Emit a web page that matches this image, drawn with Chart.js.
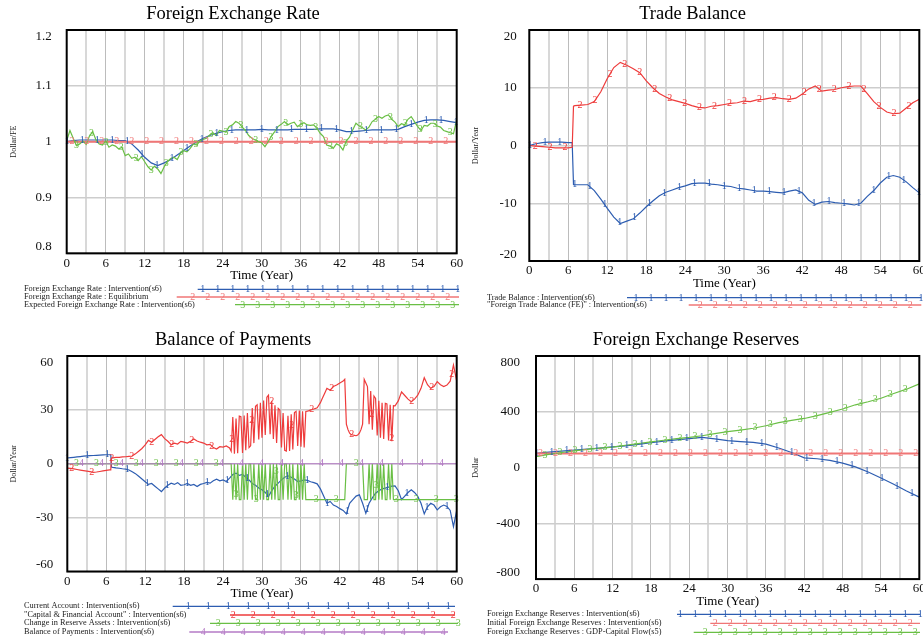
<!DOCTYPE html>
<html><head><meta charset="utf-8">
<script src="https://cdn.jsdelivr.net/npm/chart.js@4.4.1/dist/chart.umd.min.js"></script>
<style>
html,body{margin:0;padding:0;background:#fff;overflow:hidden;width:923px;height:640px;}
canvas{position:absolute;}
</style></head><body>
<canvas id="c1" width="480" height="320" style="left:0;top:0"></canvas>
<canvas id="c2" width="480" height="320" style="left:462px;top:0"></canvas>
<canvas id="c3" width="480" height="320" style="left:0;top:320px"></canvas>
<canvas id="c4" width="480" height="320" style="left:462px;top:320px"></canvas>
<script>
// ---------- shared axis values ----------
const timeTicks = [0,3,6,9,12,15,18,21,24,27,30,33,36,39,42,45,48,51,54,57,60];
const timeLabelStep = 6;

// ---------- Panel 1: Foreign Exchange Rate ----------
const fxTitle = 'Foreign Exchange Rate';
const fxUnit = 'Dollar/FE';
const fxTicks = [0.8, 0.9, 1, 1.1, 1.2];
const fxLabels = ['Foreign Exchange Rate : Intervention(s6)','Foreign Exchange Rate : Equilibrium','Expected Foreign Exchange Rate : Intervention(s6)'];
const fxTimeYear = [0,1,2,3,4,5,6,7,8,9,10,11,12,13,14,15,16,17,18,19,20,21,22,23,24,25,26,27,28,29,30,31,32,33,34,35,36,37,38,39,40,41,42,43,44,45,46,47,48,49,50,51,52,53,54,55,56,57,58,59,60];
const fxIntervention = [1.000,1.002,1.003,1.003,1.003,1.003,1.003,1.003,1.002,1.002,
 0.996,0.985,0.972,0.962,0.957,0.962,0.968,0.976,0.984,0.992,
 1.000,1.006,1.011,1.015,1.018,1.020,1.021,1.021,1.021,1.021,
 1.022,1.021,1.021,1.021,1.021,1.022,1.022,1.022,1.022,1.023,
 1.023,1.023,1.021,1.018,1.018,1.019,1.020,1.021,1.021,1.021,
 1.021,1.022,1.027,1.031,1.035,1.038,1.039,1.039,1.038,1.036,1.034];
const fxEqTime = [0, 60];
const fxEquilibrium = [1, 1];
const fxTimeHalf = [0,0.5,1,1.5,2,2.5,3,3.5,4,4.5,5,5.5,6,6.5,7,7.5,8,8.5,9,9.5,10,10.5,11,11.5,12,12.5,13,13.5,14,14.5,15,15.5,16,16.5,17,17.5,18,18.5,19,19.5,20,20.5,21,21.5,22,22.5,23,23.5,24,24.5,25,25.5,26,26.5,27,27.5,28,28.5,29,29.5,30,30.5,31,31.5,32,32.5,33,33.5,34,34.5,35,35.5,36,36.5,37,37.5,38,38.5,39,39.5,40,40.5,41,41.5,42,42.5,43,43.5,44,44.5,45,45.5,46,46.5,47,47.5,48,48.5,49,49.5,50,50.5,51,51.5,52,52.5,53,53.5,54,54.5,55,55.5,56,56.5,57,57.5,58,58.5,59,59.5,60];
const fxExpected = [1.002,1.020,1.006,0.993,0.996,1.001,0.995,1.010,1.018,1.003,
 0.996,0.994,1.001,0.990,0.994,0.992,0.987,0.990,0.975,0.978,
 0.970,0.972,0.966,0.973,0.964,0.955,0.949,0.956,0.951,0.943,
 0.955,0.964,0.970,0.972,0.968,0.979,0.984,0.982,0.988,0.996,
 0.994,1.001,1.004,1.006,1.012,1.016,1.011,1.020,1.019,1.017,
 1.027,1.030,1.036,1.033,1.026,1.020,1.011,1.006,1.003,1.000,
 0.998,0.991,1.000,1.010,1.018,1.027,1.031,1.036,1.030,1.033,
 1.035,1.027,1.031,1.034,1.030,1.029,1.030,1.024,1.015,1.009,
 0.994,0.992,0.988,0.996,0.993,0.985,1.001,1.008,1.021,1.033,
 1.028,1.025,1.021,1.026,1.036,1.040,1.045,1.042,1.046,1.048,
 1.040,1.035,1.027,1.032,1.030,1.040,1.045,1.036,1.027,1.020,
 1.029,1.028,1.033,1.033,1.028,1.026,1.020,1.018,1.016,1.014,1.039];

// ---------- Panel 2: Trade Balance ----------
const tbTitle = 'Trade Balance';
const tbUnit = 'Dollar/Year';
const tbTicks = [-20, -10, 0, 10, 20];
const tbLabels = ['Trade Balance : Intervention(s6)','"Foreign Trade Balance (FE)" : Intervention(s6)'];
const tbTime = [0,1,2,3,4,5,6,6.6,6.8,7,8,9,10,11,12,13,14,15,16,17,18,19,20,21,22,23,24,25,26,27,28,29,30,31,32,33,34,35,36,37,38,39,40,41,42,43,44,45,46,47,48,49,50,51,52,53,54,55,56,57,58,59,60];
const tbIntervention = [0,0.3,0.5,0.6,0.6,0.6,0.5,0.5,-6.8,-6.8,
 -6.8,-6.8,-7.8,-9.3,-10.9,-12.4,-13.5,-13.1,-12.7,-11.7,
 -10.6,-9.6,-8.7,-8.1,-7.7,-7.3,-7.0,-6.6,-6.5,-6.5,
 -6.7,-6.8,-7.0,-7.1,-7.4,-7.5,-7.7,-7.9,-7.9,-8.0,
 -8.1,-8.2,-7.9,-7.7,-8.2,-9.5,-10.2,-9.8,-9.7,-9.9,
 -10.0,-10.1,-10.3,-10.0,-8.8,-7.8,-6.5,-5.5,-5.2,-5.5,
 -6.3,-7.3,-8.2];
const tbForeign = [0,-0.1,-0.2,-0.3,-0.4,-0.4,-0.4,-0.3,6.8,6.9,
 7.0,7.1,7.6,9.3,11.6,13.5,14.4,13.9,13.3,12.6,
 11.2,10.0,9.0,8.4,7.9,7.6,7.3,6.9,6.6,6.5,
 6.8,6.9,7.1,7.3,7.4,7.7,7.6,7.9,8.0,8.2,
 8.3,8.1,8.0,8.2,8.9,9.8,10.3,9.4,9.6,9.7,
 10.0,10.2,10.3,10.3,9.0,7.6,6.6,5.8,5.5,5.6,
 6.5,7.4,8.0];

// ---------- Panel 3: Balance of Payments ----------
const bopTitle = 'Balance of Payments';
const bopUnit = 'Dollar/Year';
const bopTicks = [-60, -30, 0, 30, 60];
const bopLabels = ['Current Account : Intervention(s6)','"Capital & Financial Account" : Intervention(s6)','Change in Reserve Assets : Intervention(s6)','Balance of Payments : Intervention(s6)'];
const caTime = [0,0.5,1,1.5,2,2.5,3,3.5,4,4.5,5,5.5,6,6.5,6.7,6.8,
 7,7.5,8,8.5,9,9.5,10,10.5,11,11.5,12,12.5,13,13.5,14,14.5,15,15.5,16,16.5,17,17.5,18,18.5,19,19.5,20,20.5,21,21.5,22,22.5,23,23.5,24,24.5,25,25.5,26,26.5,27,27.5,28,28.5,29,29.5,30,30.5,31,31.5,32,32.5,33,33.5,34,34.5,35,35.5,36,36.5,37,37.5,38,38.5,39,39.5,40,40.5,41,41.5,42,42.5,43,43.5,44,44.5,45,45.5,46,46.5,47,47.5,48,48.5,49,49.5,50,50.5,51,51.5,52,52.5,53,53.5,54,54.5,55,55.5,56,56.5,57,57.5,58,58.5,59,59.5,60];
const currentAccount = [3.2,3.4,3.6,3.8,4.0,4.2,4.4,4.5,4.6,4.7,4.8,4.9,5.0,5.0,5.0,-1.8,
 -2.0,-2.3,-2.5,-2.8,-3.0,-3.5,-4.5,-5.5,-7.0,-8.5,
 -10.0,-11.5,-11.0,-12.5,-14.0,-15.5,-13.5,-12.0,-10.8,-11.5,
 -10.5,-12.0,-11.7,-11.0,-12.0,-11.5,-12.7,-11.5,-11.0,-10.4,
 -10.8,-9.5,-8.6,-9.5,-9.0,-9.9,-8.0,-6.0,-5.2,-6.5,
 -6.0,-7.5,-9.0,-11.0,-12.0,-13.5,-14.5,-16.0,-18.2,-15.0,
 -12.5,-10.8,-9.0,-7.5,-6.7,-7.5,-8.5,-9.9,-9.5,-9.0,
 -9.3,-10.0,-10.5,-11.2,-14.0,-18.0,-22.0,-21.0,-23.0,-23.8,
 -25.0,-26.0,-27.9,-22.0,-20.0,-18.0,-17.3,-22.0,-27.6,-22.0,
 -19.0,-16.4,-15.0,-14.0,-13.6,-13.0,-12.5,-12.3,-15.0,-20.0,
 -18.0,-16.0,-14.5,-16.0,-18.2,-22.0,-27.9,-24.0,-22.0,-23.0,
 -25.7,-24.0,-23.0,-23.8,-26.0,-35.0,-26.0];
const kaTime = [0,0.5,1,1.5,2,2.5,3,3.5,4,4.5,5,5.5,6,6.5,6.7,6.8,
 7,7.5,8,8.5,9,9.5,10,10.5,11,11.5,12,12.5,13,13.5,14,14.5,15,15.5,16,16.5,17,17.5,18,18.5,19,19.5,20,20.5,21,21.5,22,22.5,23,23.5,24,24.5,25,
 25.25,25.5,25.75,26,26.25,26.5,26.75,27,27.25,27.5,27.75,28,28.25,28.5,28.75,29,29.25,29.5,29.75,30,30.25,30.5,30.75,31,31.25,31.5,31.75,32,32.25,32.5,32.75,33,33.25,33.5,33.75,34,34.25,34.5,34.75,35,35.25,35.5,35.75,36,36.25,36.5,36.75,37,
 37.25,37.5,37.75,38,38.25,38.5,38.75,39,39.25,39.5,39.75,40,40.25,40.5,40.75,41,41.25,41.5,41.75,42,42.25,42.5,42.75,
 43,43.25,43.5,43.75,44,44.25,44.5,44.75,45,45.25,45.5,45.75,46,46.25,
 46.5,46.75,47,47.25,47.5,47.75,48,48.25,48.5,48.75,49,49.25,49.5,49.75,50,50.25,
 50.5,51,51.5,52,52.5,53,53.5,54,54.5,55,55.5,56,56.5,57,57.5,58,58.5,59,59.5,60];
const capitalAccount = [-2.4,-2.6,-2.9,-3.2,-3.5,-3.8,-4.1,-4.4,-4.8,-4.6,-4.3,-4.0,-3.7,-3.4,-3.4,3.2,
 3.3,3.5,3.6,3.8,3.9,4.1,4.3,5.5,7.0,8.5,10.5,13.0,12.0,13.5,15.0,16.2,14.0,12.5,10.6,11.5,11.0,12.5,12.0,11.5,12.5,13.8,12.7,12.0,11.5,10.5,10.8,9.0,8.2,9.5,9.3,9.9,8.8,
 7.0,26.0,5.6,25.2,5.8,26.5,26.2,6.0,26.8,7.5,28.2,9.0,10.0,31.0,11.5,32.0,32.8,13.5,34.0,14.5,35.2,16.0,37.0,38.2,16.5,35.0,13.8,32.5,11.6,30.8,29.9,9.0,28.2,7.5,7.1,26.7,7.1,27.5,8.0,28.5,29.2,9.9,29.7,9.5,29.2,9.0,29.1,29.3,
 29.6,30.0,30.2,30.5,30.8,31.2,32.6,34.0,36.0,38.0,40.0,42.0,41.5,41.0,42.0,43.0,43.4,43.8,44.4,45.0,45.5,46.0,47.0,
 22.0,19.0,17.0,16.2,16.0,15.8,15.6,16.0,17.0,19.0,22.0,47.0,45.0,43.0,
 22.0,40.5,19.0,37.7,36.4,15.7,35.0,14.5,34.0,13.8,33.6,33.3,13.0,32.8,12.5,32.4,
 32.3,35.0,40.0,38.0,36.0,34.5,36.0,38.2,42.0,47.9,44.0,42.0,43.0,45.7,44.0,43.0,43.8,46.0,55.0,46.0];
const reserveChange = [0,0,0,0,0,0,0,0,0,0,0,0,0,0,0,0,
 0,0,0,0,0,0,0,0,0,0,0,0,0,0,0,0,0,0,0,0,0,0,0,0,0,0,0,0,0,0,0,0,0,0,0,0,0,
 0,-20,0,-20,0,-20,-20,0,-20,0,-20,0,0,-20,0,-20,-20,0,-20,0,-20,0,-20,-20,0,-20,0,-20,0,-20,-20,0,-20,0,0,-20,0,-20,0,-20,-20,0,-20,0,-20,0,-20,-20,
 -20,-20,-20,-20,-20,-20,-20,-20,-20,-20,-20,-20,-20,-20,-20,-20,-20,-20,-20,-20,-20,-20,-20,
 0,0,0,0,0,0,0,0,0,0,0,-20,-20,-20,
 0,-20,0,-20,-20,0,-20,0,-20,0,-20,-20,0,-20,0,-20,
 -20,-20,-20,-20,-20,-20,-20,-20,-20,-20,-20,-20,-20,-20,-20,-20,-20,-20,-20,-20];
const bopTime = [0, 60];
const balanceOfPayments = [0, 0];

// ---------- Panel 4: Foreign Exchange Reserves ----------
const resTitle = 'Foreign Exchange Reserves';
const resUnit = 'Dollar';
const resTicks = [-800, -400, 0, 400, 800];
const resLabels = ['Foreign Exchange Reserves : Intervention(s6)','Initial Foreign Exchange Reserves : Intervention(s6)','Foreign Exchange Reserves : GDP-Capital Flow(s5)'];
const resTime = [0,2,4,6,8,10,12,14,16,18,20,22,24,26,28,30,32,34,36,38,40,42,44,46,48,50,52,54,56,58,60];
const resIntervention = [102,110,118,126,133,140,148,156,166,178,190,199,208,217,205,193,186,180,168,140,108,70,63,52,32,5,-32,-75,-120,-168,-212];
const resInitTime = [0, 60];
const resInitial = [100, 100];
const resGdpFlow = [79,95,108,120,131,139,147,160,172,184,196,207,216,228,243,257,268,282,300,322,338,352,372,396,420,450,472,497,531,562,600];

// ---------- drawing ----------
const BLUE = '#2d5db1', RED = '#ee3b3b', REDL = '#f07676', GREEN = '#6abf45', PURPLE = '#b47ac6';
const SERIF = "'Liberation Serif','Times New Roman',serif";
Chart.defaults.font.family = SERIF;
Chart.defaults.color = '#111';

const markerPlugin = {
  id: 'vmarks',
  afterDatasetsDraw(chart) {
    const ctx = chart.ctx, xs = chart.scales.x;
    ctx.save();
    ctx.font = '10px ' + SERIF;
    ctx.textAlign = 'center'; ctx.textBaseline = 'middle';
    chart.data.datasets.forEach((ds, i) => {
      const m = ds.mark; if (!m) return;
      const pts = chart.getDatasetMeta(i).data;
      ctx.fillStyle = ds.borderColor;
      for (let t = m.start; t <= 60.001; t += m.step) {
        const px = xs.getPixelForValue(t);
        let k = 0;
        while (k < pts.length - 2 && pts[k + 1].x < px) k++;
        const p0 = pts[k], p1 = pts[k + 1];
        const f = p1.x === p0.x ? 0 : (px - p0.x) / (p1.x - p0.x);
        ctx.fillText(m.ch, px, p0.y + (p1.y - p0.y) * f);
      }
    });
    ctx.restore();
  }
};
const framePlugin = {
  id: 'vframe',
  afterDatasetsDraw(chart) {
    const a = chart.chartArea, ctx = chart.ctx;
    ctx.save(); ctx.strokeStyle = '#000'; ctx.lineWidth = 2;
    ctx.strokeRect(a.left, a.top, a.right - a.left, a.bottom - a.top);
    ctx.restore();
  }
};
function legendPlugin(rows, textX) {
  return {
    id: 'vlegend',
    afterDraw(chart) {
      const ctx = chart.ctx; ctx.save();
      rows.forEach(r => {
        ctx.font = '8.3px ' + SERIF; ctx.fillStyle = '#222';
        ctx.textAlign = 'left'; ctx.textBaseline = 'middle';
        ctx.fillText(r.label, textX, r.y);
        ctx.strokeStyle = r.color; ctx.lineWidth = 1.3;
        ctx.beginPath(); ctx.moveTo(r.x1, r.y); ctx.lineTo(r.x2, r.y); ctx.stroke();
        ctx.font = '10px ' + SERIF; ctx.fillStyle = r.color; ctx.textAlign = 'center';
        for (let x = r.m0; x <= r.x2 + 0.5; x += r.ms) ctx.fillText(r.ch, x, r.y + 0.5);
      });
      ctx.restore();
    }
  };
}

function panel(id, o) {
  const cv = document.getElementById(id);
  const W = cv.width, H = cv.height, a = o.area, XH = 30;
  const boxRight = 2 * o.titleX;              // title spans 0 .. boxRight
  const n = o.ticks.length;
  new Chart(cv, {
    type: 'line',
    data: {
      datasets: o.series.map((s, i) => ({
        label: s.label,
        data: s.t.map((t, k) => ({ x: t, y: s.v[k] })),
        borderColor: s.color, backgroundColor: s.color,
        borderWidth: s.width || 1.2,
        pointRadius: 0, pointHoverRadius: 0, tension: 0, fill: false,
        order: o.series.length - i,
        mark: s.mark
      }))
    },
    options: {
      responsive: false, animation: false, events: [], devicePixelRatio: 1,
      layout: { padding: { left: 0, top: 0, right: W - boxRight, bottom: H - a.b - XH } },
      plugins: {
        legend: { display: false }, tooltip: { enabled: false },
        title: {
          display: true, text: o.title, fullSize: true, color: '#000',
          font: { size: 18.5, weight: 'normal', family: SERIF, lineHeight: 1.2 },
          padding: { top: o.titleTop, bottom: a.t - 22.2 - o.titleTop }
        }
      },
      scales: {
        x: {
          type: 'linear', min: 0, max: 60,
          afterBuildTicks: s => { s.ticks = timeTicks.map(v => ({ value: v })); },
          afterFit: s => { s.height = XH; s.paddingLeft = 0; s.paddingRight = 0; },
          ticks: { autoSkip: false, maxRotation: 0, padding: 2, font: { size: 13 }, color: '#111',
                   callback: v => (v % timeLabelStep === 0 ? String(v) : '') },
          grid: { drawTicks: false,
                  color: c => (c.tick && c.tick.value % 6 === 0 ? '#bcbcbc' : '#d8d8d8'),
                  lineWidth: c => (c.tick && c.tick.value % 6 === 0 ? 1 : 2) },
          border: { display: false },
          title: { display: true, text: 'Time (Year)', color: '#000', font: { size: 13 }, padding: 0 }
        },
        y: {
          type: 'linear', min: o.ticks[0], max: o.ticks[n - 1],
          afterBuildTicks: s => { s.ticks = o.ticks.map(v => ({ value: v })); },
          afterFit: s => { s.width = a.l; s.paddingTop = 0; s.paddingBottom = 0; },
          ticks: { padding: o.tickPad, font: { size: 13, lineHeight: 1.0 }, color: '#111',
                   callback: (v, i) => (i === n - 1 ? ['', String(v)] : i === 0 ? [String(v), ''] : String(v)) },
          grid: { drawTicks: false, color: '#cdcdcd', lineWidth: 1.5 },
          border: { display: false },
          title: { display: true, text: o.unit, color: '#222', font: { size: 8 }, padding: { top: 9, bottom: 0 } }
        },
        yPad: {
          type: 'linear', position: 'right', display: true,
          ticks: { display: false }, grid: { display: false }, border: { display: false },
          afterFit: s => { s.width = boxRight - a.r; s.paddingTop = 0; s.paddingBottom = 0; }
        }
      }
    },
    plugins: [markerPlugin, framePlugin, legendPlugin(o.legend, o.legendX)]
  });
}

panel('c1', {
  title: fxTitle, unit: fxUnit, ticks: fxTicks, tickPad: 15, titleTop: 3, titleX: 233,
  area: { l: 66.7, t: 30, r: 456.7, b: 253.3 },
  series: [
    { label: fxLabels[0], t: fxTimeYear, v: fxIntervention, color: BLUE, mark: { ch: '1', start: 0.1, step: 2.3 } },
    { label: fxLabels[1], t: fxEqTime, v: fxEquilibrium, color: REDL, width: 2, mark: { ch: '2', start: 0.8, step: 2.3 } },
    { label: fxLabels[2], t: fxTimeHalf, v: fxExpected, color: GREEN, mark: { ch: '3', start: 1.5, step: 2.3 } }
  ],
  legendX: 24,
  legend: [
    { label: fxLabels[0], y: 289.3, color: BLUE, ch: '1', x1: 197.7, x2: 459, m0: 202.7, ms: 15 },
    { label: fxLabels[1], y: 297, color: REDL, ch: '2', x1: 176.7, x2: 459, m0: 192.7, ms: 15 },
    { label: fxLabels[2], y: 304.7, color: GREEN, ch: '3', x1: 235, x2: 459, m0: 242.7, ms: 15 }
  ]
});

panel('c2', {
  title: tbTitle, unit: tbUnit, ticks: tbTicks, tickPad: 12.5, titleTop: 3, titleX: 230.5,
  area: { l: 67.3, t: 30, r: 457.3, b: 261 },
  series: [
    { label: tbLabels[0], t: tbTime, v: tbIntervention, color: BLUE, mark: { ch: '1', start: 0.1, step: 2.3 } },
    { label: tbLabels[1], t: tbTime, v: tbForeign, color: RED, mark: { ch: '2', start: 0.9, step: 2.3 } }
  ],
  legendX: 25,
  legend: [
    { label: tbLabels[0], y: 297.7, color: BLUE, ch: '1', x1: 165, x2: 459.3, m0: 174, ms: 15 },
    { label: tbLabels[1], y: 305, color: REDL, ch: '2', x1: 226.7, x2: 459.3, m0: 238.3, ms: 15 }
  ]
});

panel('c3', {
  title: bopTitle, unit: bopUnit, ticks: bopTicks, tickPad: 14, titleTop: 8.6, titleX: 233,
  area: { l: 67.3, t: 36, r: 456.7, b: 251.5 },
  series: [
    { label: bopLabels[0], t: caTime, v: currentAccount, color: BLUE, mark: { ch: '1', start: 0.0, step: 3.08 } },
    { label: bopLabels[1], t: kaTime, v: capitalAccount, color: RED, mark: { ch: '2', start: 0.7, step: 3.08 } },
    { label: bopLabels[2], t: kaTime, v: reserveChange, color: GREEN, mark: { ch: '3', start: 1.4, step: 3.08 } },
    { label: bopLabels[3], t: bopTime, v: balanceOfPayments, color: PURPLE, mark: { ch: '4', start: 2.2, step: 3.08 } }
  ],
  legendX: 24,
  legend: [
    { label: bopLabels[0], y: 286.3, color: BLUE, ch: '1', x1: 172.7, x2: 455, m0: 188.3, ms: 20 },
    { label: bopLabels[1], y: 295, color: RED, ch: '2', x1: 230, x2: 455, m0: 233.3, ms: 20 },
    { label: bopLabels[2], y: 303.3, color: GREEN, ch: '3', x1: 210, x2: 458, m0: 218.3, ms: 20 },
    { label: bopLabels[3], y: 312, color: PURPLE, ch: '4', x1: 189.3, x2: 448, m0: 203.3, ms: 20 }
  ]
});

panel('c4', {
  title: resTitle, unit: resUnit, ticks: resTicks, tickPad: 16, titleTop: 8.6, titleX: 234,
  area: { l: 74, t: 36, r: 457.3, b: 259.1 },
  series: [
    { label: resLabels[0], t: resTime, v: resIntervention, color: BLUE, mark: { ch: '1', start: 0.1, step: 2.35 } },
    { label: resLabels[1], t: resInitTime, v: resInitial, color: REDL, width: 2, mark: { ch: '2', start: 0.7, step: 2.35 } },
    { label: resLabels[2], t: resTime, v: resGdpFlow, color: GREEN, mark: { ch: '3', start: 1.4, step: 2.35 } }
  ],
  legendX: 25,
  legend: [
    { label: resLabels[0], y: 294.3, color: BLUE, ch: '1', x1: 215, x2: 458, m0: 218.3, ms: 15 },
    { label: resLabels[1], y: 303.3, color: REDL, ch: '2', x1: 248.3, x2: 458, m0: 253.3, ms: 15 },
    { label: resLabels[2], y: 312.3, color: GREEN, ch: '3', x1: 231.7, x2: 458, m0: 243.3, ms: 15 }
  ]
});
</script>
</body></html>
